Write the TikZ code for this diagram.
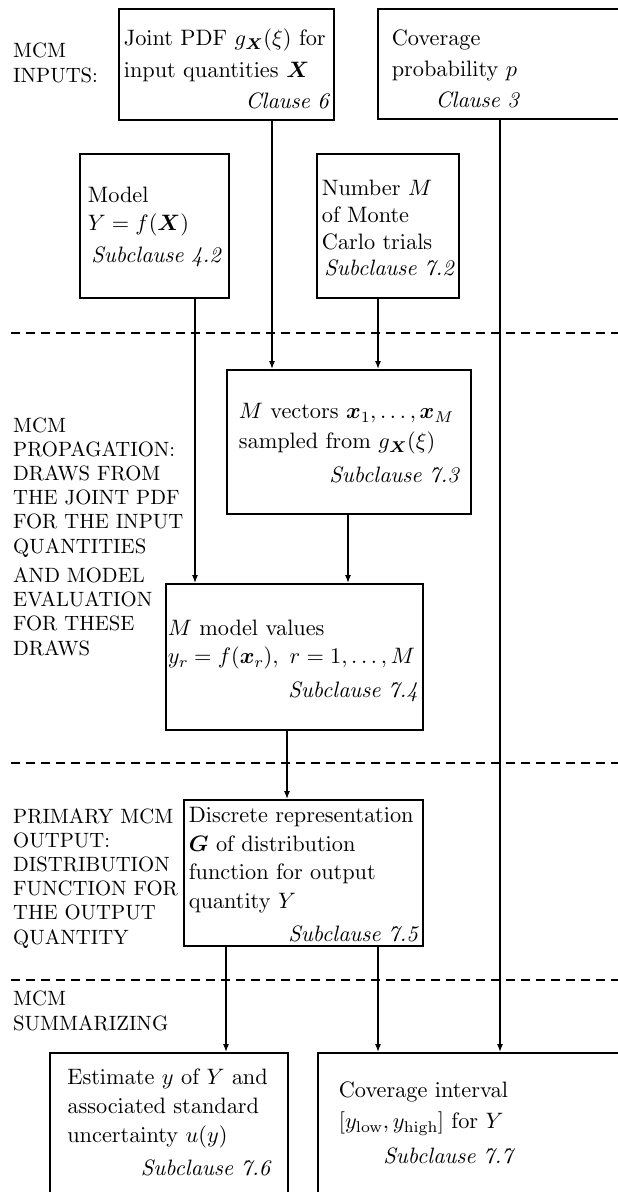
\documentclass[tikz,border=0pt]{standalone}
\usepackage{amsmath}
\usetikzlibrary{arrows.meta}
\DeclareFontFamily{OT1}{cmr}{\hyphenchar\font45 }
\DeclareFontShape{OT1}{cmr}{m}{n}{<-13>cmr5 <13-18>cmr7 <18->cmr10}{}
\DeclareFontShape{OT1}{cmr}{m}{it}{<->cmti10}{}
\DeclareFontShape{OT1}{cmr}{bx}{n}{<-13>cmbx5 <13-18>cmbx7 <18->cmbx10}{}
\DeclareFontShape{OML}{cmm}{m}{it}{<-13>cmmi5 <13-18>cmmi7 <18->cmmi10}{}
\DeclareFontShape{OML}{cmm}{b}{it}{<-13>cmmib5 <13-18>cmmib7 <18->cmmib10}{}
\DeclareFontShape{OMS}{cmsy}{m}{n}{<-13>cmsy5 <13-18>cmsy7 <18->cmsy10}{}
\DeclareFontShape{OMS}{cmsy}{b}{n}{<-13>cmbsy5 <13-18>cmbsy7 <18->cmbsy10}{}
\DeclareFontShape{OMX}{cmex}{m}{n}{<->cmex10}{}
\renewcommand\encodingdefault{OT1}
\renewcommand\rmdefault{cmr}
\begin{document}
\begin{tikzpicture}[x=1pt,y=-1pt,
  box/.style={draw, line width=1.7pt, align=left, anchor=north west,
    font=\normalfont\fontsize{22.3}{#1}\selectfont, inner ysep=0pt},
  lab/.style={anchor=base west, align=left, inner sep=0pt,
    font=\normalfont\fontsize{20.7}{24.2}\selectfont},
  arr/.style={line width=1.3pt, -{Latex[length=8pt,width=6pt]}},
  sepline/.style={line width=1.3pt, dash pattern=on 9pt off 6pt}]
\useasboundingbox (0,0) rectangle (618,1192);
\clip (0,0) rectangle (618,1192);

% section labels (anchored at the baseline of their last line)
\node[lab] (l1) at (13,82) {MCM\\INPUTS:};
\node[lab] (l2) at (13,553) {MCM\\PROPAGATION:\\DRAWS FROM\\THE JOINT PDF\\FOR THE INPUT\\QUANTITIES};
\node[lab] (l3) at (13,655) {AND MODEL\\EVALUATION\\FOR THESE\\DRAWS};
\node[lab] (l4) at (13,944) {PRIMARY MCM\\OUTPUT:\\DISTRIBUTION\\FUNCTION FOR\\THE OUTPUT\\QUANTITY};
\node[lab] (l5) at (13,1030) {MCM\\SUMMARIZING};

% dividing lines
\draw[sepline] (11,333) -- (640,333);
\draw[sepline] (11,763) -- (640,763);
\draw[sepline] (11,980) -- (640,980);

% boxes (text height = top edge to first baseline, text depth = first baseline to bottom edge)
\node[box=31.5, text width=205pt, inner xsep=5pt, text height=37pt, text depth=74pt] (jpdf) at (118,8)
  {Joint PDF $g_{\boldsymbol{X}}(\xi)$ for\\ input quantities $\boldsymbol{X}$\\ \makebox[\linewidth][r]{\itshape Clause 6}};
\node[box=31, text width=255pt, inner xsep=14pt, text height=37pt, text depth=73pt] (cov) at (377,8)
  {Coverage\\ probability $p$\\ \makebox[127pt][r]{\itshape Clause 3}};
\node[box=28, text width=133pt, inner xsep=8pt, text height=49pt, text depth=95pt] (model) at (79,153)
  {Model\\ $Y=f(\boldsymbol{X})$\\[4pt] \makebox[\linewidth][r]{\itshape Subclause 4.2}};
\node[box=26.7, text width=132pt, inner xsep=5pt, text height=42pt, text depth=102pt] (num) at (316,153)
  {Number $M$\\ of Monte\\ Carlo trials\\ \makebox[\linewidth][r]{\itshape Subclause 7.2}};
\node[box=30, text width=220pt, inner xsep=12pt, text height=49pt, text depth=95pt] (vec) at (226,369)
  {$M$ vectors $\boldsymbol{x}_1,\ldots,\boldsymbol{x}_M$\\ sampled from $g_{\boldsymbol{X}}(\xi)$\\[4pt] \makebox[\linewidth][r]{\itshape Subclause 7.3}};
\node[box=28, text width=253pt, inner xsep=2pt, text height=52pt, text depth=94pt] (vals) at (165,583)
  {$M$ model values\\ $y_r=f(\boldsymbol{x}_r),\ r=1,\ldots,M$\\[6pt] \makebox[250pt][r]{\itshape Subclause 7.4}};
\node[box=28.5, text width=229pt, inner xsep=5pt, text height=23pt, text depth=123pt] (disc) at (183,799)
  {Discrete representation\\ $\boldsymbol{G}$ of distribution\\ function for output\\ quantity $Y$\\[5pt] \makebox[\linewidth][r]{\itshape Subclause 7.5}};
\node[box=29, text width=203pt, inner xsep=17.5pt, text height=32pt, text depth=110pt] (est) at (49,1052)
  {Estimate $y$ of $Y$ and\\ associated standard\\ uncertainty $u(y)$\\[4pt] \makebox[\linewidth][r]{\itshape Subclause 7.6}};
\node[box=31, text width=301pt, inner xsep=21pt, text height=45pt, text depth=97pt] (ci) at (317,1052)
  {Coverage interval\\ $[y_{\mathrm{low}},y_{\mathrm{high}}]$ for $Y$\\[4pt] \makebox[174pt][r]{\itshape Subclause 7.7}};

% connector columns
\coordinate (a1) at (272,0);
\coordinate (a2) at (378,0);
\coordinate (a3) at (195,0);
\coordinate (a4) at (348,0);
\coordinate (a5) at (287,0);
\coordinate (a6) at (226,0);
\coordinate (a8) at (500,0);

\draw[arr] (jpdf.south -| a1) -- (vec.north -| a1);
\draw[arr] (num.south -| a2) -- (vec.north -| a2);
\draw[arr] (model.south -| a3) -- (vals.north -| a3);
\draw[arr] (vec.south -| a4) -- (vals.north -| a4);
\draw[arr] (vals.south -| a5) -- (disc.north -| a5);
\draw[arr] (disc.south -| a6) -- (est.north -| a6);
\draw[arr] (disc.south -| a2) -- (ci.north -| a2);
\draw[arr] (cov.south -| a8) -- (ci.north -| a8);
\end{tikzpicture}
\end{document}
